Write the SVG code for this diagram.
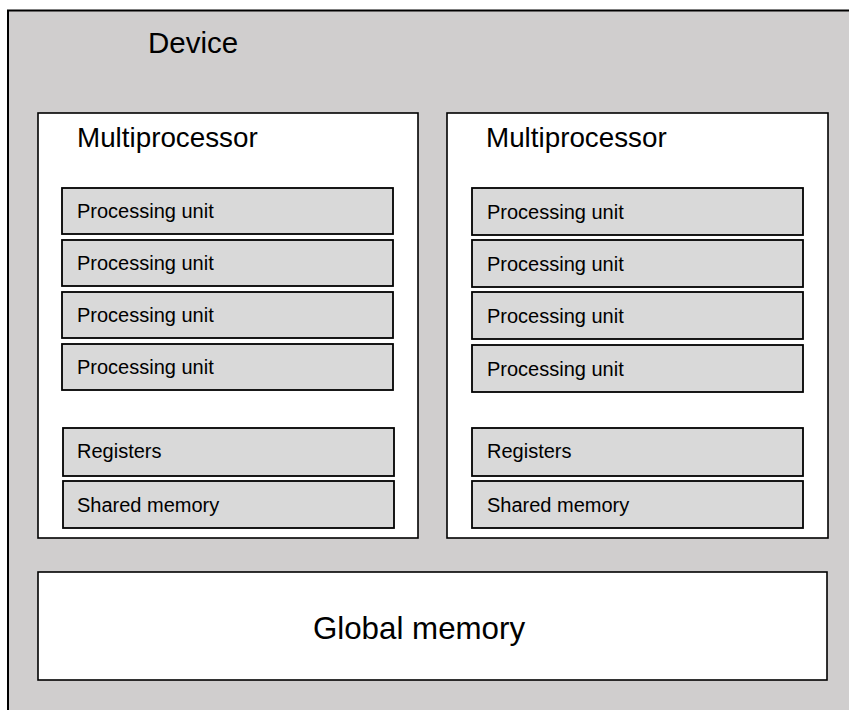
<svg xmlns="http://www.w3.org/2000/svg" width="849" height="710" viewBox="0 0 849 710">
<style>
.dev{fill:#D0CECE;stroke:#000;stroke-width:2}
.mp{fill:#FFFFFF;stroke:#000;stroke-width:1.6}
.pu{fill:#D9D9D9;stroke:#000;stroke-width:1.8}
.t{font-family:"Liberation Sans",Arial,sans-serif;fill:#000}
.big{font-size:29.5px}
.mid{font-size:27.8px}
.sm{font-size:20px}
.gm{font-size:31.3px}
</style>
<g id="device">
<rect class="dev" x="8" y="10.5" width="860" height="720"/>
<text class="t big" x="148" y="53">Device</text>
</g>
<g id="mp1">
<rect class="mp" x="38" y="113" width="380" height="425"/>
<text class="t mid" x="77" y="147">Multiprocessor</text>
</g>
<g id="mp1-pu1"><rect class="pu" x="62" y="188" width="331" height="46"/><text class="t sm" x="77" y="218">Processing unit</text></g>
<g id="mp1-pu2"><rect class="pu" x="62" y="240" width="331" height="46"/><text class="t sm" x="77" y="270">Processing unit</text></g>
<g id="mp1-pu3"><rect class="pu" x="62" y="292" width="331" height="46"/><text class="t sm" x="77" y="322">Processing unit</text></g>
<g id="mp1-pu4"><rect class="pu" x="62" y="344" width="331" height="46"/><text class="t sm" x="77" y="374">Processing unit</text></g>
<g id="mp1-reg"><rect class="pu" x="63" y="428" width="331" height="48"/><text class="t sm" x="77" y="458">Registers</text></g>
<g id="mp1-shm"><rect class="pu" x="63" y="481" width="331" height="47"/><text class="t sm" x="77" y="512">Shared memory</text></g>
<g id="mp2">
<rect class="mp" x="447" y="113" width="381" height="425"/>
<text class="t mid" x="486" y="147">Multiprocessor</text>
</g>
<g id="mp2-pu1"><rect class="pu" x="472" y="188" width="331" height="47"/><text class="t sm" x="487" y="219">Processing unit</text></g>
<g id="mp2-pu2"><rect class="pu" x="472" y="240" width="331" height="47"/><text class="t sm" x="487" y="271">Processing unit</text></g>
<g id="mp2-pu3"><rect class="pu" x="472" y="292" width="331" height="47"/><text class="t sm" x="487" y="323">Processing unit</text></g>
<g id="mp2-pu4"><rect class="pu" x="472" y="345" width="331" height="47"/><text class="t sm" x="487" y="376">Processing unit</text></g>
<g id="mp2-reg"><rect class="pu" x="472" y="428" width="331" height="48"/><text class="t sm" x="487" y="458">Registers</text></g>
<g id="mp2-shm"><rect class="pu" x="472" y="481" width="331" height="47"/><text class="t sm" x="487" y="512">Shared memory</text></g>
<g id="global">
<rect class="mp" x="38" y="572" width="789" height="108"/>
<text class="t gm" x="419" y="639" text-anchor="middle">Global memory</text>
</g>
<g id="connectors"/>
</svg>
